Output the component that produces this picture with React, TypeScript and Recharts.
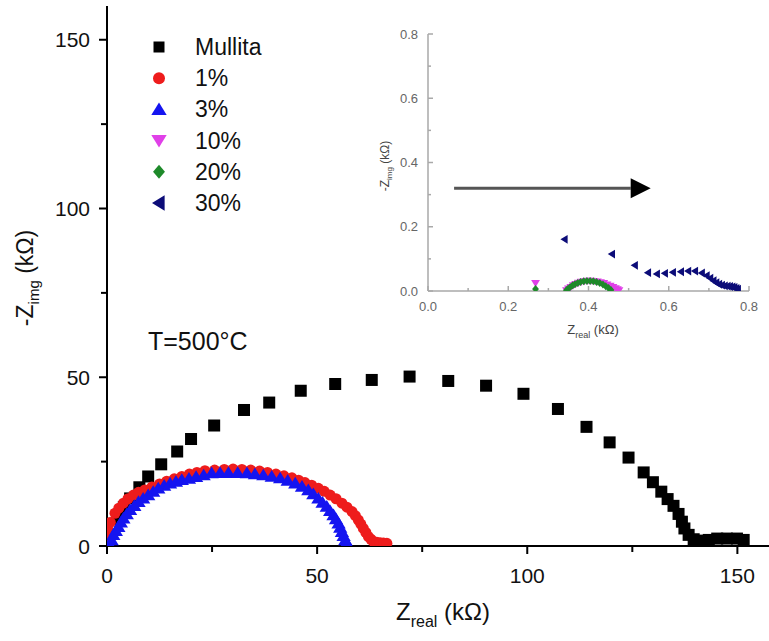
import React from 'react';
import { ScatterChart, Scatter, XAxis, YAxis, ReferenceLine } from 'recharts';

const FONT = '"Liberation Sans", Arial, Helvetica, sans-serif';

// main plot, kΩ
const mullitaX = [2.5, 4.0, 5.5, 7.7, 9.8, 12.9, 16.7, 20.0, 25.5, 32.6, 38.6, 46.1, 54.3, 63.0, 72.0, 81.2, 90.2, 99.1, 107.3, 114.1, 119.6, 124.1, 127.7, 129.9, 131.9, 133.4, 134.8, 136.0, 136.8, 137.4, 138.4, 139.6, 141.2, 143.2, 145.2, 147.5, 149.9, 151.5];
const mullitaY = [8.0, 11.5, 14.1, 17.4, 20.6, 24.2, 28.0, 31.7, 35.7, 40.3, 42.5, 46.0, 48.0, 49.2, 50.2, 48.9, 47.5, 45.1, 40.6, 35.3, 30.7, 26.2, 21.8, 18.9, 16.1, 13.9, 11.9, 9.5, 7.2, 5.2, 3.3, 2.0, 1.6, 1.8, 2.2, 2.2, 2.2, 1.8];

const p1X = [0.1, 0.3, 0.8, 1.9, 2.8, 3.9, 5.0, 6.3, 7.5, 9.0, 10.7, 12.5, 14.2, 16.0, 17.8, 19.6, 21.4, 23.3, 25.6, 27.9, 30.0, 32.1, 34.2, 36.3, 38.2, 40.2, 42.1, 44.0, 45.6, 47.1, 48.7, 50.3, 51.7, 53.1, 54.5, 55.9, 57.1, 58.3, 59.1, 59.8, 60.4, 61.0, 61.6, 62.2, 62.8, 63.4, 64.2, 65.0, 65.8, 66.6];
const p1Y = [2.0, 4.7, 7.0, 9.7, 11.2, 12.7, 14.0, 15.1, 15.9, 16.6, 17.5, 18.4, 19.2, 19.9, 20.6, 21.3, 21.8, 22.3, 22.5, 22.7, 22.8, 22.7, 22.5, 22.2, 21.8, 21.3, 20.8, 20.2, 19.5, 18.8, 18.0, 17.1, 16.2, 15.1, 14.0, 12.7, 11.5, 10.2, 9.0, 7.7, 6.5, 5.2, 4.0, 2.8, 2.0, 1.3, 1.1, 1.0, 0.9, 0.8];

const p3X = [0.7, 1.1, 1.5, 2.1, 2.7, 3.3, 3.9, 4.7, 5.5, 6.5, 7.5, 8.6, 9.8, 11.0, 12.2, 13.6, 15.0, 16.4, 17.8, 19.5, 21.2, 23.0, 24.9, 26.9, 28.9, 31.1, 33.3, 35.2, 37.2, 39.2, 41.2, 43.0, 44.8, 46.4, 47.9, 49.1, 50.3, 51.3, 52.3, 53.1, 53.9, 54.5, 55.1, 55.5, 55.9, 56.3, 56.7, 57.0, 57.2];
const p3Y = [0.3, 1.8, 3.3, 4.5, 5.7, 7.0, 8.2, 9.5, 10.7, 11.9, 13.1, 14.1, 15.1, 16.1, 17.1, 17.9, 18.6, 19.1, 19.6, 20.0, 20.5, 21.0, 21.6, 21.7, 21.7, 21.7, 21.6, 21.3, 21.0, 20.6, 20.1, 19.4, 18.6, 17.6, 16.6, 15.4, 14.1, 12.9, 11.7, 10.4, 9.2, 8.0, 6.7, 5.5, 4.2, 3.0, 1.8, 1.0, 0.3];

// inset, kΩ
const p10X = [0.268, 0.345, 0.350, 0.356, 0.362, 0.368, 0.375, 0.382, 0.390, 0.398, 0.406, 0.414, 0.422, 0.430, 0.438, 0.446, 0.454, 0.461, 0.467, 0.472, 0.476];
const p10Y = [0.024, 0.002, 0.007, 0.012, 0.017, 0.021, 0.025, 0.028, 0.030, 0.031, 0.031, 0.030, 0.029, 0.027, 0.024, 0.020, 0.016, 0.012, 0.008, 0.005, 0.002];

const p20X = [0.268, 0.345, 0.349, 0.354, 0.360, 0.366, 0.373, 0.380, 0.388, 0.396, 0.404, 0.412, 0.420, 0.428, 0.436, 0.443, 0.450, 0.456];
const p20Y = [0.006, 0.002, 0.007, 0.012, 0.017, 0.021, 0.025, 0.028, 0.030, 0.031, 0.031, 0.030, 0.028, 0.025, 0.020, 0.015, 0.009, 0.003];

const p30X = [0.340, 0.458, 0.515, 0.548, 0.570, 0.590, 0.610, 0.630, 0.648, 0.665, 0.682, 0.694, 0.703, 0.711, 0.718, 0.725, 0.732, 0.739, 0.746, 0.752, 0.758, 0.763, 0.768, 0.772];
const p30Y = [0.161, 0.115, 0.080, 0.057, 0.053, 0.055, 0.058, 0.060, 0.062, 0.062, 0.056, 0.048, 0.040, 0.032, 0.026, 0.021, 0.018, 0.016, 0.015, 0.014, 0.013, 0.011, 0.008, 0.006];

const mainTicks = [0, 25, 50, 75, 100, 125, 150];
const insetTicks = [0, 0.1, 0.2, 0.3, 0.4, 0.5, 0.6, 0.7, 0.8];
const legendLabels = ['Mullita', '1%', '3%', '10%', '20%', '30%'];
const arrowFrom = { x: 0.065, y: 0.32 };
const arrowTo = { x: 0.555, y: 0.32 };

const zip = (xs: number[], ys: number[]) => xs.map((x, i) => ({ x, y: ys[i] }));

type Kind = 'square' | 'circle' | 'up' | 'down' | 'diamond' | 'left';

const drawMarker = (kind: Kind, cx: number, cy: number, r: number, fill: string) => {
  switch (kind) {
    case 'square':
      return <rect x={cx - r} y={cy - r} width={2 * r} height={2 * r} fill={fill} />;
    case 'circle':
      return <circle cx={cx} cy={cy} r={r} fill={fill} />;
    case 'up':
      return <polygon points={`${cx},${cy - r} ${cx + r * 1.1},${cy + r * 0.8} ${cx - r * 1.1},${cy + r * 0.8}`} fill={fill} />;
    case 'down':
      return <polygon points={`${cx},${cy + r} ${cx + r * 1.1},${cy - r * 0.8} ${cx - r * 1.1},${cy - r * 0.8}`} fill={fill} />;
    case 'diamond':
      return <polygon points={`${cx},${cy - r} ${cx + r * 0.85},${cy} ${cx},${cy + r} ${cx - r * 0.85},${cy}`} fill={fill} />;
    default:
      return <polygon points={`${cx - r},${cy} ${cx + r * 0.8},${cy - r * 1.1} ${cx + r * 0.8},${cy + r * 1.1}`} fill={fill} />;
  }
};

const marker = (kind: Kind, r: number, fill: string) => (p: any) =>
  p.cx == null ? <g /> : drawMarker(kind, p.cx, p.cy, r, fill);

const series = [
  { name: 'Mullita', kind: 'square' as Kind, color: '#000000', r: 6 },
  { name: '1%', kind: 'circle' as Kind, color: '#ee1c1c', r: 5.5 },
  { name: '3%', kind: 'up' as Kind, color: '#1414f0', r: 6.5 },
  { name: '10%', kind: 'down' as Kind, color: '#e040e8', r: 4 },
  { name: '20%', kind: 'diamond' as Kind, color: '#1e8a2a', r: 4 },
  { name: '30%', kind: 'left' as Kind, color: '#0c0c78', r: 4 },
];

const mainData = [zip(mullitaX, mullitaY), zip(p1X, p1Y), zip(p3X, p3Y)];
const insetData = [zip(p10X, p10Y), zip(p20X, p20Y), zip(p30X, p30Y)];

// main axes ticks (outward on bottom/left, inward on top/right)
const BottomTick = (p: any) => {
  const v = p.payload.value;
  const major = v % 50 === 0;
  return (
    <g>
      <line x1={p.x} x2={p.x} y1={p.y} y2={p.y + (major ? 8 : 6)} stroke="#000" strokeWidth={2} />
      {major && (
        <text x={p.x} y={p.y + 37} textAnchor="middle" fontSize={21} fill="#111" fontFamily={FONT}>{v}</text>
      )}
    </g>
  );
};
const LeftTick = (p: any) => {
  const v = p.payload.value;
  const major = v % 50 === 0;
  return (
    <g>
      <line x1={p.x - (major ? 8 : 6)} x2={p.x} y1={p.y} y2={p.y} stroke="#000" strokeWidth={2} />
      {major && (
        <text x={p.x - 17} y={p.y + 7.5} textAnchor="end" fontSize={21} fill="#111" fontFamily={FONT}>{v}</text>
      )}
    </g>
  );
};
const TopTick = (p: any) => (
  <line x1={p.x} x2={p.x} y1={p.y} y2={p.y + 6} stroke="#000" strokeWidth={2} />
);
const RightTick = (p: any) => (
  <line x1={p.x - 7} x2={p.x} y1={p.y} y2={p.y} stroke="#000" strokeWidth={2} />
);

// inset ticks, all inward
const INSET_GRAY = '#a9a9a9';
const isMajor = (v: number) => Math.round(v * 10) % 2 === 0;
const InBottomTick = (p: any) => {
  const v = p.payload.value;
  return (
    <g>
      <line x1={p.x} x2={p.x} y1={p.y} y2={p.y - (isMajor(v) ? 5 : 3)} stroke={INSET_GRAY} strokeWidth={1.5} />
      {isMajor(v) && (
        <text x={p.x} y={p.y + 20} textAnchor="middle" fontSize={13} fill="#666" fontFamily={FONT}>{v.toFixed(1)}</text>
      )}
    </g>
  );
};
const InLeftTick = (p: any) => {
  const v = p.payload.value;
  return (
    <g>
      <line x1={p.x} x2={p.x + (isMajor(v) ? 5 : 3)} y1={p.y} y2={p.y} stroke={INSET_GRAY} strokeWidth={1.5} />
      {isMajor(v) && (
        <text x={p.x - 10} y={p.y + 4.5} textAnchor="end" fontSize={13} fill="#666" fontFamily={FONT}>{v.toFixed(1)}</text>
      )}
    </g>
  );
};
const InTopTick = (p: any) => (
  <line x1={p.x} x2={p.x} y1={p.y} y2={p.y + (isMajor(p.payload.value) ? 5 : 3)} stroke={INSET_GRAY} strokeWidth={1.5} />
);
const InRightTick = (p: any) => (
  <line x1={p.x - (isMajor(p.payload.value) ? 5 : 3)} x2={p.x} y1={p.y} y2={p.y} stroke={INSET_GRAY} strokeWidth={1.5} />
);

const Arrow = (p: any) => {
  const { x1, y1, x2, y2 } = p;
  const head = 20;
  return (
    <g>
      <line x1={x1} y1={y1} x2={x2 - head} y2={y2} stroke="#555" strokeWidth={3} />
      <polygon points={`${x2},${y2} ${x2 - head},${y2 - 10} ${x2 - head},${y2 + 10}`} fill="#000" />
    </g>
  );
};

const frame = { stroke: '#000', strokeWidth: 2 };
const insetFrame = { stroke: INSET_GRAY, strokeWidth: 1.5 };

export default function App() {
  return (
    <div style={{ position: 'absolute', left: 0, top: 0, width: 769, height: 641, overflow: 'hidden', background: '#fff', fontFamily: FONT }}>
      <ScatterChart width={772} height={641} margin={{ top: 6, right: 1, bottom: 0, left: 0 }}>
        <XAxis type="number" dataKey="x" domain={[0, 158]} allowDataOverflow ticks={mainTicks} interval={0}
          height={95} tickSize={0} tickMargin={0} tickLine={false} tick={BottomTick} axisLine={frame} />
        <XAxis xAxisId="top" orientation="top" type="number" domain={[0, 158]} allowDataOverflow ticks={mainTicks} interval={0}
          height={0} tickSize={0} tickMargin={0} tickLine={false} tick={TopTick} axisLine={frame} />
        <YAxis type="number" dataKey="y" domain={[0, 160]} allowDataOverflow ticks={mainTicks} interval={0}
          width={107} tickSize={0} tickMargin={0} tickLine={false} tick={LeftTick} axisLine={frame} />
        <YAxis yAxisId="right" orientation="right" type="number" domain={[0, 160]} allowDataOverflow ticks={mainTicks} interval={0}
          width={0} tickSize={0} tickMargin={0} tickLine={false} tick={RightTick} axisLine={frame} />
        {mainData.map((d, i) => (
          <Scatter key={series[i].name} name={series[i].name} data={d} isAnimationActive={false}
            shape={marker(series[i].kind, series[i].r, series[i].color)} />
        ))}
      </ScatterChart>

      <div style={{ position: 'absolute', left: 380, top: 20 }}>
        <ScatterChart width={380} height={320} margin={{ top: 14, right: 11, bottom: 0, left: 0 }}>
          <XAxis type="number" dataKey="x" domain={[0, 0.8]} allowDataOverflow ticks={insetTicks} interval={0}
            height={49} tickSize={0} tickMargin={0} tickLine={false} tick={InBottomTick} axisLine={insetFrame} />
          <XAxis xAxisId="top" orientation="top" type="number" domain={[0, 0.8]} allowDataOverflow ticks={insetTicks} interval={0}
            height={0} tickSize={0} tickMargin={0} tickLine={false} tick={InTopTick} axisLine={insetFrame} />
          <YAxis type="number" dataKey="y" domain={[0, 0.8]} allowDataOverflow ticks={insetTicks} interval={0}
            width={48} tickSize={0} tickMargin={0} tickLine={false} tick={InLeftTick} axisLine={insetFrame} />
          <YAxis yAxisId="right" orientation="right" type="number" domain={[0, 0.8]} allowDataOverflow ticks={insetTicks} interval={0}
            width={0} tickSize={0} tickMargin={0} tickLine={false} tick={InRightTick} axisLine={insetFrame} />
          <ReferenceLine segment={[arrowFrom, arrowTo]} shape={Arrow} />
          {insetData.map((d, i) => (
            <Scatter key={series[i + 3].name} name={series[i + 3].name} data={d} isAnimationActive={false}
              shape={marker(series[i + 3].kind, series[i + 3].r, series[i + 3].color)} />
          ))}
        </ScatterChart>
      </div>

      <svg width={769} height={641} style={{ position: 'absolute', left: 0, top: 0, pointerEvents: 'none' }} fontFamily={FONT}>
        {legendLabels.map((label, i) => {
          const cy = 47 + i * 31.2;
          const s = series[i];
          const r = s.kind === 'square' ? 5.5 : s.kind === 'circle' ? 6 : 7;
          return (
            <g key={label}>
              {drawMarker(s.kind, 159, cy, r, s.color)}
              <text x={195} y={cy + 8} fontSize={23} fill="#111">{label}</text>
            </g>
          );
        })}
        <text x={148} y={350} fontSize={25} fill="#111">T=500°C</text>
        <text transform="translate(33,278) rotate(-90)" textAnchor="middle" fontSize={23} fill="#111">
          -Z<tspan fontSize={15} dy={6}>img</tspan><tspan dy={-6}> (kΩ)</tspan>
        </text>
        <text x={443} y={620} textAnchor="middle" fontSize={24} fill="#111">
          Z<tspan fontSize={16} dy={7}>real</tspan><tspan dy={-7}> (kΩ)</tspan>
        </text>
        <text transform="translate(389,166) rotate(-90)" textAnchor="middle" fontSize={12} fill="#444">
          -Z<tspan fontSize={8} dy={3}>img</tspan><tspan dy={-3}> (kΩ)</tspan>
        </text>
        <text x={593} y={334} textAnchor="middle" fontSize={13} fill="#444">
          Z<tspan fontSize={9} dy={4}>real</tspan><tspan dy={-4}> (kΩ)</tspan>
        </text>
      </svg>
    </div>
  );
}
